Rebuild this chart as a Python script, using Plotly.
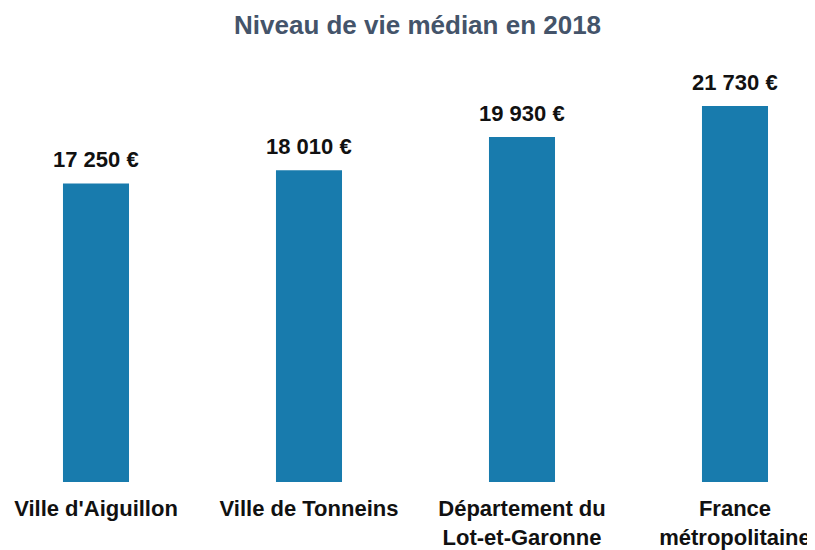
import plotly.graph_objects as go

categories = ["Ville d'Aiguillon", "Ville de Tonneins", "Département du<br>Lot-et-Garonne", "France<br>métropolitaine"]
values = [17250, 18010, 19930, 21730]
value_labels = ["17 250 €", "18 010 €", "19 930 €", "21 730 €"]
title_text = "Niveau de vie médian en 2018"

FONT = "Liberation Sans, Arial"

fig = go.Figure()
fig.add_trace(go.Bar(
    x=list(range(len(categories))),
    y=values,
    marker=dict(color="#187BAD", line=dict(width=0)),
    width=0.31,
    hoverinfo="skip",
))
for i, (v, t) in enumerate(zip(values, value_labels)):
    fig.add_annotation(x=i, y=v, text="<b>" + t + "</b>", showarrow=False, yanchor="bottom", yshift=9,
                       font=dict(family=FONT, size=22, color="#111111"))

fig.add_annotation(xref="paper", yref="paper", x=0.507, y=1, yshift=52, xanchor="center", yanchor="top",
                   text="<b>" + title_text + "</b>", showarrow=False,
                   font=dict(family=FONT, size=26, color="#44546A"))

fig.update_layout(
    width=807, height=542,
    margin=dict(l=0, r=0, t=52, b=64),
    paper_bgcolor="white", plot_bgcolor="white",
    showlegend=False,
    xaxis=dict(range=[-0.4131, 3.3756], tickmode="array", tickvals=list(range(len(categories))),
               ticktext=["<b>" + c.replace("<br>", "</b><br><b>") + "</b>" for c in categories],
               showgrid=False, zeroline=False, showline=False, ticks="", ticklabelstandoff=11,
               tickfont=dict(family=FONT, size=22, color="#111111"), fixedrange=True),
    yaxis=dict(range=[0, 24385], visible=False, fixedrange=True),
)
fig.write_html("out.html")
